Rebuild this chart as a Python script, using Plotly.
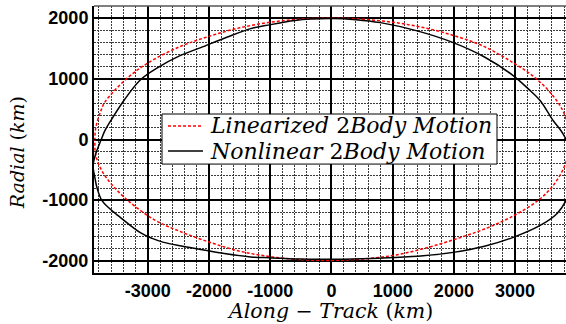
import plotly.graph_objects as go

# Relative orbit in the LVLH frame (km), traced clockwise from the top
lin_x = [0, 500, 1000, 1500, 2000, 2500, 2969, 3300, 3560, 3768, 3870, 3890, 3860, 3790,
         3620, 3377, 2969, 2500, 2000, 1500, 1000, 500, 0, -500, -1000, -1500, -2000,
         -2500, -2900, -3328, -3600, -3760, -3850, -3866, -3850, -3768, -3700, -3360,
         -3000, -2500, -2000, -1500, -1000, -500, 0]
lin_y = [2000, 1983, 1932, 1845, 1712, 1530, 1265, 1040, 790, 500, 200, 0, -250, -480,
         -760, -1004, -1260, -1475, -1650, -1800, -1912, -1970, -1992, -1980, -1930, -1840,
         -1690, -1505, -1320, -1004, -730, -500, -260, -60, 200, 470, 620, 990,
         1260, 1520, 1700, 1840, 1932, 1983, 2000]

non_x = [0, 400, 800, 1400, 1990, 2500, 2969, 3220, 3409, 3621, 3740, 3817, 3900, 3945,
         3930, 3834, 3687, 3409, 2969, 2500, 1990, 1500, 1011, 500, 0, -500, -1000, -1321,
         -1750, -2137, -2450, -2741, -2930, -3116, -3491, -3640, -3752, -3830, -3866,
         -3895, -3850, -3768, -3700, -3605, -3380, -3116, -2838, -2500, -2137, -1700,
         -1321, -995, -600, -343, 0]
non_y = [1995, 1975, 1926, 1790, 1597, 1360, 1053, 830, 642, 313, 160, 33, -180, -450,
         -720, -1004, -1218, -1416, -1613, -1760, -1860, -1915, -1945, -1965, -1975, -1968,
         -1950, -1935, -1880, -1811, -1755, -1695, -1630, -1540, -1250, -1125, -1004,
         -800, -625, -430, -230, -16, 150, 313, 660, 988, 1185, 1370, 1514, 1690,
         1827, 1893, 1960, 1985, 1995]

x_ticks = [-3000, -2000, -1000, 0, 1000, 2000, 3000]
y_ticks = [-2000, -1000, 0, 1000, 2000]

series_names = ["<i>Linearized</i> 2<i>Body Motion</i>",
                "<i>Nonlinear</i> 2<i>Body Motion</i>"]
series_colors = ["red", "black"]
series_dash = ["3px,2px", "solid"]

serif = "DejaVu Serif"
sans = "Liberation Sans"

fig = go.Figure()
for xs, ys, name, color, dash in zip([lin_x, non_x], [lin_y, non_y],
                                     series_names, series_colors, series_dash):
    fig.add_trace(go.Scatter(
        x=xs, y=ys, mode="lines", name=name,
        line=dict(color=color, width=1.5, dash=dash, shape="spline", smoothing=1),
    ))

axis_common = dict(
    showgrid=True, gridcolor="black", gridwidth=1.6,
    zeroline=False,
    showline=True, linecolor="black", linewidth=2,
    ticks="inside", ticklen=4, tickcolor="black",
    tickfont=dict(family=sans, size=18, color="black", weight="bold"),
    minor=dict(dtick=200, tick0=0, showgrid=True, gridcolor="#3a3a3a",
               griddash="2px,1px", gridwidth=1),
)

# Thin frame edge along the top of the axes
shapes = [dict(type="line", xref="paper", yref="paper", x0=0, x1=1, y0=1, y1=1,
               line=dict(color="#555555", width=1.5), layer="above")]

# Boxed key in the middle of the axes
box_x0, box_x1, box_y0, box_y1 = 0.1441, 0.8538, 0.408, 0.5955
row_y = [0.5506, 0.4569]
shapes.append(dict(type="rect", xref="paper", yref="paper",
                   x0=box_x0, x1=box_x1, y0=box_y0, y1=box_y1,
                   fillcolor="white", line=dict(color="black", width=1), layer="above"))
annotations = []
for ry, name, color, dash in zip(row_y, series_names, series_colors, series_dash):
    shapes.append(dict(type="line", xref="paper", yref="paper",
                       x0=0.1568, x1=0.2309, y0=ry, y1=ry, layer="above",
                       line=dict(color=color, width=1.5, dash=dash)))
    annotations.append(dict(xref="paper", yref="paper", x=0.2415, y=ry,
                            xanchor="left", yanchor="middle", showarrow=False,
                            text=name, font=dict(family=serif, size=22, color="black")))

# Axis titles
annotations.append(dict(xref="paper", yref="paper", x=0.499, y=-0.1423,
                        xanchor="center", yanchor="middle", showarrow=False,
                        text="<i>Along</i> − <i>Track</i> (<i>km</i>)",
                        font=dict(family=serif, size=20.5, color="black")))
annotations.append(dict(xref="paper", yref="paper", x=-0.163, y=0.449,
                        xanchor="center", yanchor="middle", showarrow=False,
                        textangle=-90, text="<i>Radial</i> (<i>km</i>)",
                        font=dict(family=serif, size=19, color="black")))

fig.update_layout(
    width=566, height=324,
    margin=dict(l=94, r=0, t=6, b=51),
    paper_bgcolor="white", plot_bgcolor="white",
    showlegend=False,
    xaxis=dict(range=[-3880, 3832], tickvals=x_ticks,
               ticktext=[str(v) for v in x_ticks], mirror=False, **axis_common),
    yaxis=dict(range=[-2200, 2200], tickvals=y_ticks,
               ticktext=[str(v) for v in y_ticks], mirror=False, **axis_common),
    shapes=shapes,
    annotations=annotations,
)

fig.write_html("out.html")
